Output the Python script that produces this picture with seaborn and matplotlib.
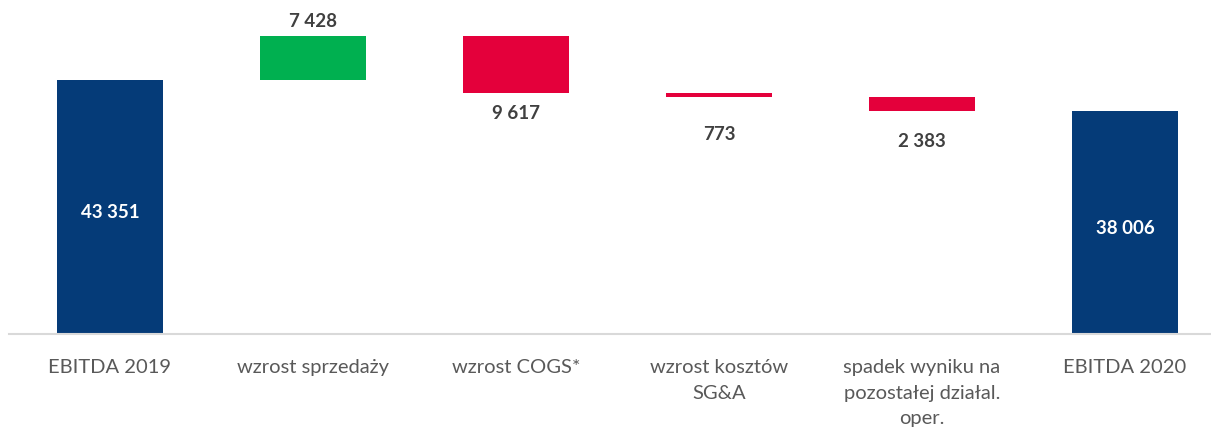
import matplotlib
matplotlib.use("Agg")
import matplotlib.pyplot as plt
import seaborn as sns
import numpy as np

categories = ["EBITDA 2019", "wzrost sprzedaży", "wzrost COGS*",
              "wzrost kosztów\nSG&A", "spadek wyniku na\npozostałej działal.\noper.",
              "EBITDA 2020"]
changes = [43351, 7428, -9617, -773, -2383, 38006]
kinds = ["total", "delta", "delta", "delta", "delta", "total"]
value_labels = ["43 351", "7 428", "9 617", "773", "2 383", "38 006"]

# compute waterfall bottoms/heights
bottoms, heights = [], []
running = 0
for v, k in zip(changes, kinds):
    if k == "total":
        bottoms.append(0)
        heights.append(v)
        running = v
    else:
        if v >= 0:
            bottoms.append(running)
            heights.append(v)
        else:
            bottoms.append(running + v)
            heights.append(-v)
        running += v

NAVY = "#053B78"
GREEN = "#00B050"
RED = "#E4003B"
colors = [NAVY if k == "total" else (GREEN if v >= 0 else RED) for v, k in zip(changes, kinds)]

sns.set_theme(style="white")
plt.rcParams["font.family"] = ["Lato", "DejaVu Sans"]

fig = plt.figure(figsize=(12.11, 4.32), dpi=100)
ax = fig.add_axes([8.5 / 1211, 98 / 432, 1218 / 1211, 334 / 432])

sns.barplot(x=list(range(len(categories))), y=heights, bottom=bottoms,
            color=NAVY, width=0.52, ax=ax, linewidth=0, saturation=1)
for p, c in zip(ax.patches, colors):
    p.set_facecolor(c)
    p.set_edgecolor("none")

ax.set_xlim(-0.5, 5.5)
ax.set_ylim(0, 57006)

for s in ["top", "right", "left"]:
    ax.spines[s].set_visible(False)
ax.spines["bottom"].set_color("#D9D9D9")
ax.spines["bottom"].set_linewidth(1.5)
ax.set_yticks([])
ax.set_xticks(range(len(categories)))
ax.set_xticklabels(categories, fontsize=14.5, color="#595959", linespacing=1.62, va="top")
ax.tick_params(axis="x", length=0, pad=18)

# value labels
offsets = [0, 15, -21, -37, -30, 0]
for i, (b, h, k, lab, off) in enumerate(zip(bottoms, heights, kinds, value_labels, offsets)):
    if k == "total":
        ax.text(i, b + h / 2 - 1000, lab, ha="center", va="center", color="white",
                fontsize=13.5, fontweight="bold")
    elif changes[i] >= 0:
        ax.annotate(lab, (i, b + h), xytext=(0, off * 0.72), textcoords="offset points",
                    ha="center", va="center", color="#404040", fontsize=13.5, fontweight="bold")
    else:
        ax.annotate(lab, (i, b), xytext=(0, off * 0.72), textcoords="offset points",
                    ha="center", va="center", color="#404040", fontsize=13.5, fontweight="bold")

fig.savefig("out.png", dpi=100)
